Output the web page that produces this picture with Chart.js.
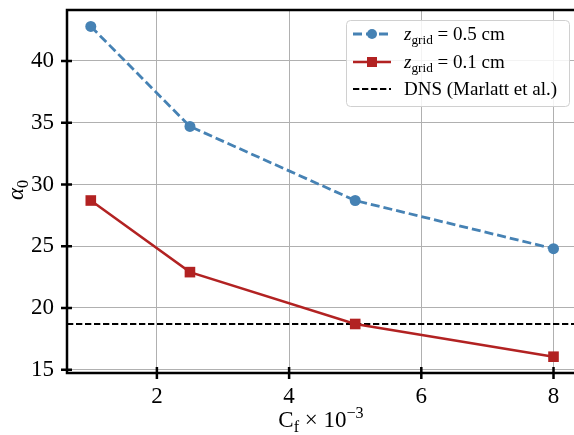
<!DOCTYPE html>
<html>
<head>
<meta charset="utf-8">
<script src="https://cdn.jsdelivr.net/npm/chart.js@4.4.1/dist/chart.umd.min.js"></script>
<style>
  html, body { margin: 0; padding: 0; background: #fff; }
  #wrap { width: 574px; height: 435px; }
</style>
</head>
<body>
<div id="wrap"><canvas id="cAlpha"></canvas></div>
<script>
const cf = [1, 2.5, 5, 8];
const alphaCoarse = [42.8, 34.7, 28.7, 24.8];    // z_grid = 0.5 cm
const alphaFine = [28.7, 22.9, 18.7, 16.05];     // z_grid = 0.1 cm
const alphaDNS = 18.7;                           // Marlatt et al.
const xTicks = [2, 4, 6, 8];
const yTicks = [15, 20, 25, 30, 35, 40];
const xRange = [0.64, 8.31];
const yRange = [14.73, 44.13];

const SERIF = '"Liberation Serif", "DejaVu Serif", serif';
const BLUE = '#4682b4';
const RED = '#b22222';
const BLUE_DASH = [9, 4];
const DNS_DASH = [6.3, 2.7];

// draws a run of text pieces: [text, kind] with kind r / i / sub / sup
function drawRich(ctx, parts, x, y, size, align) {
    const fontFor = k => {
        const s = (k === 'sub' || k === 'sup') ? size * 0.7 : size;
        return (k === 'i' ? 'italic ' : '') + s + 'px ' + SERIF;
    };
    let w = 0;
    parts.forEach(p => { ctx.font = fontFor(p[1]); w += ctx.measureText(p[0]).width; });
    let cx = align === 'center' ? x - w / 2 : x;
    ctx.textAlign = 'left';
    ctx.textBaseline = 'alphabetic';
    parts.forEach(p => {
        ctx.font = fontFor(p[1]);
        const dy = p[1] === 'sub' ? size * 0.22 : p[1] === 'sup' ? -size * 0.4 : 0;
        ctx.fillText(p[0], cx, y + dy);
        cx += ctx.measureText(p[0]).width;
    });
}

const frame = {
    id: 'frame',
    afterDraw(chart) {
        const ctx = chart.ctx;
        const a = chart.chartArea;
        const xs = chart.scales.x, ys = chart.scales.y;
        ctx.save();
        ctx.strokeStyle = '#000';
        ctx.fillStyle = '#000';

        // spines (no right one, it falls off the canvas)
        ctx.lineWidth = 2.5;
        ctx.beginPath();
        ctx.moveTo(a.left, a.bottom); ctx.lineTo(a.left, a.top);
        ctx.moveTo(a.left - 1.25, a.top); ctx.lineTo(chart.width, a.top);
        ctx.moveTo(a.left - 1.25, a.bottom); ctx.lineTo(chart.width, a.bottom);
        ctx.stroke();

        // ticks crossing the spines
        ctx.lineWidth = 2.5;
        ctx.beginPath();
        yTicks.forEach(v => {
            const y = ys.getPixelForValue(v);
            ctx.moveTo(a.left - 6, y); ctx.lineTo(a.left + 5, y);
        });
        xTicks.forEach(v => {
            const x = xs.getPixelForValue(v);
            ctx.moveTo(x, a.bottom - 6); ctx.lineTo(x, a.bottom + 6);
        });
        ctx.stroke();

        // axis titles
        drawRich(ctx, [['C', 'r'], ['f', 'sub'], [' \u00d7 10', 'r'], ['\u22123', 'sup']], 321, 427, 23, 'center');
        ctx.save();
        ctx.translate(23, 190);
        ctx.rotate(-Math.PI / 2);
        drawRich(ctx, [['\u03b1', 'i'], ['0', 'sub']], 0, 0, 23, 'center');
        ctx.restore();

        // legend
        const lx = 346, ly = 20, lw = 223, lh = 86;
        ctx.beginPath();
        ctx.roundRect(lx + 0.5, ly + 0.5, lw, lh, 4);
        ctx.fillStyle = 'rgba(255,255,255,0.85)';
        ctx.fill();
        ctx.strokeStyle = '#d0d0d0';
        ctx.lineWidth = 1;
        ctx.stroke();

        const rows = [
            { y: 34, color: BLUE, dash: BLUE_DASH, width: 2.8, marker: 'circle',
              text: [['z', 'i'], ['grid', 'sub'], [' = 0.5 cm', 'r']] },
            { y: 62, color: RED, dash: [], width: 2.5, marker: 'rect',
              text: [['z', 'i'], ['grid', 'sub'], [' = 0.1 cm', 'r']] },
            { y: 89, color: '#000', dash: DNS_DASH, width: 2, marker: null,
              text: [['DNS (Marlatt et al.)', 'r']] }
        ];
        rows.forEach(r => {
            ctx.strokeStyle = r.color;
            ctx.lineWidth = r.width;
            ctx.setLineDash(r.dash);
            ctx.beginPath();
            ctx.moveTo(353, r.y); ctx.lineTo(391, r.y);
            ctx.stroke();
            ctx.setLineDash([]);
            ctx.fillStyle = r.color;
            if (r.marker === 'circle') {
                ctx.beginPath(); ctx.arc(372, r.y, 5, 0, Math.PI * 2); ctx.fill();
            } else if (r.marker === 'rect') {
                ctx.fillRect(367, r.y - 5, 10, 10);
            }
            ctx.fillStyle = '#000';
            drawRich(ctx, r.text, 404, r.y + 6, 19, 'left');
        });
        ctx.restore();
    }
};

new Chart(document.getElementById('cAlpha'), {
    type: 'scatter',
    data: {
        datasets: [{
            label: 'z_grid = 0.5 cm',
            data: cf.map((x, i) => ({ x, y: alphaCoarse[i] })),
            showLine: true,
            borderColor: BLUE,
            backgroundColor: BLUE,
            borderWidth: 2.8,
            borderDash: BLUE_DASH,
            pointStyle: 'circle',
            pointRadius: 5.5,
            pointBorderWidth: 0
        }, {
            label: 'z_grid = 0.1 cm',
            data: cf.map((x, i) => ({ x, y: alphaFine[i] })),
            showLine: true,
            borderColor: RED,
            backgroundColor: RED,
            borderWidth: 2.5,
            pointStyle: 'rect',
            pointRadius: 7.5,
            pointBorderWidth: 0
        }, {
            label: 'DNS (Marlatt et al.)',
            data: xRange.map(x => ({ x, y: alphaDNS })),
            showLine: true,
            borderColor: '#000',
            borderWidth: 2,
            borderDash: DNS_DASH,
            pointRadius: 0
        }]
    },
    options: {
        responsive: true,
        maintainAspectRatio: false,
        animation: false,
        layout: { autoPadding: false, padding: { top: 10, right: 0, left: 0, bottom: 0 } },
        plugins: { legend: { display: false }, tooltip: { enabled: false } },
        scales: {
            x: {
                type: 'linear',
                min: xRange[0],
                max: xRange[1],
                afterBuildTicks: s => { s.ticks = xTicks.map(v => ({ value: v })); },
                afterFit: s => { s.height = 62; s.paddingLeft = 0; s.paddingRight = 0; },
                grid: { color: '#b0b0b0', lineWidth: 1, drawTicks: false },
                border: { display: false },
                ticks: { padding: 10, color: '#000', font: { family: SERIF, size: 23 } }
            },
            y: {
                type: 'linear',
                min: yRange[0],
                max: yRange[1],
                afterBuildTicks: s => { s.ticks = yTicks.map(v => ({ value: v })); },
                afterFit: s => { s.width = 67; s.paddingTop = 0; s.paddingBottom = 0; },
                grid: { color: '#b0b0b0', lineWidth: 1, drawTicks: false },
                border: { display: false },
                ticks: { padding: 13, color: '#000', font: { family: SERIF, size: 23 } }
            }
        }
    },
    plugins: [frame]
});
</script>
</body>
</html>
